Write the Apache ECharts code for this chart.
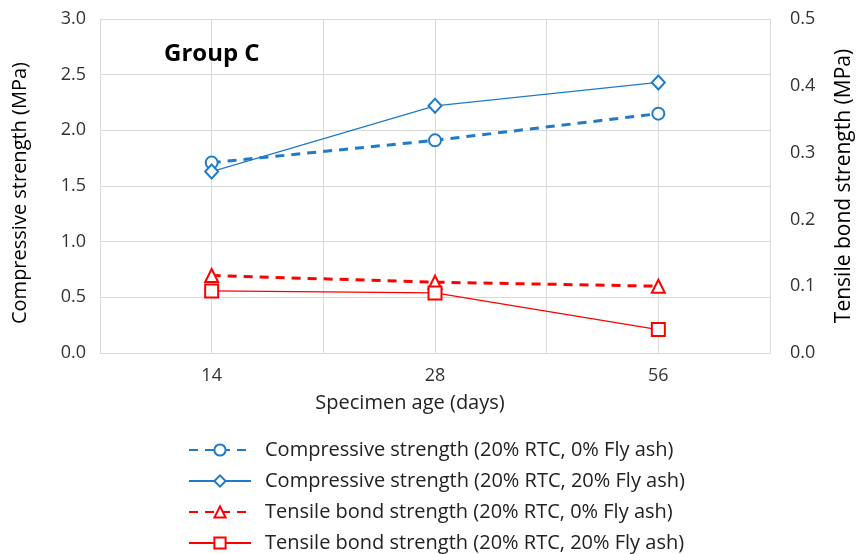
<!DOCTYPE html>
<html>
<head>
<meta charset="utf-8">
<script src="https://cdn.jsdelivr.net/npm/echarts@6/dist/echarts.min.js"></script>
<style>html,body{margin:0;padding:0;background:#fff}#c{width:863px;height:554px}</style>
</head>
<body>
<div id="c"></div>
<script>
const categories = ['14', '28', '56'];
const compNoFly = [1.71, 1.91, 2.15];
const compFly = [1.63, 2.22, 2.43];
const tensNoFly = [0.116, 0.106, 0.100];
const tensFly = [0.093, 0.090, 0.035];
const leftTicks = [0, 3, 0.5];
const rightTicks = [0, 0.5, 0.1];
const names = [
  'Compressive strength (20% RTC, 0% Fly ash)',
  'Compressive strength (20% RTC, 20% Fly ash)',
  'Tensile bond strength (20% RTC, 0% Fly ash)',
  'Tensile bond strength (20% RTC, 20% Fly ash)'
];
const FONT = '"Open Sans", "Noto Sans", sans-serif';
const BLUE = '#1f7bc8';
const RED = '#ff0000';
const GRID = '#d9d9d9';
const chart = echarts.init(document.getElementById('c'));
chart.setOption({
  animation: false,
  textStyle: { fontFamily: FONT },
  title: {
    text: 'Group C', left: 159, top: 37,
    textStyle: { fontFamily: FONT, fontSize: 24, fontWeight: 'bold', color: '#000' }
  },
  grid: { left: 100, right: 83, top: 19, bottom: 201 },
  legend: {
    orient: 'vertical', left: 183, top: 435, height: 120,
    itemWidth: 62, itemHeight: 14, itemGap: 11,
    textStyle: { fontFamily: FONT, fontSize: 20, color: '#222', padding: [0, 0, 0, 9] },
    data: names
  },
  xAxis: [{
    type: 'category', data: categories, boundaryGap: true,
    name: 'Specimen age (days)', nameLocation: 'middle', nameGap: 40,
    nameTextStyle: { fontFamily: FONT, fontSize: 20, color: '#222', padding: [0, 50, 0, 0] },
    axisLine: { lineStyle: { color: GRID } }, axisTick: { show: false },
    axisLabel: { fontFamily: FONT, fontSize: 18, color: '#333', margin: 14 },
    splitLine: { show: false }
  }, {
    type: 'value', min: 0, max: 6, interval: 1, position: 'top',
    axisLine: { show: false }, axisTick: { show: false }, axisLabel: { show: false },
    splitLine: { show: true, lineStyle: { color: GRID, width: 1 } }
  }],
  yAxis: [{
    type: 'value', min: leftTicks[0], max: leftTicks[1], interval: leftTicks[2],
    name: 'Compressive strength (MPa)', nameLocation: 'middle', nameGap: 70,
    nameTextStyle: { fontFamily: FONT, fontSize: 20, color: '#000', padding: [0, 14, 0, 0] },
    axisLine: { show: true, lineStyle: { color: GRID } }, axisTick: { show: false },
    axisLabel: { fontFamily: FONT, fontSize: 18, color: '#333', margin: 14, formatter: v => v.toFixed(1) },
    splitLine: { show: true, lineStyle: { color: GRID } }
  }, {
    type: 'value', min: rightTicks[0], max: rightTicks[1], interval: rightTicks[2],
    name: 'Tensile bond strength (MPa)', nameLocation: 'middle', nameGap: 64,
    nameRotate: 90,
    nameTextStyle: { fontFamily: FONT, fontSize: 21, color: '#000' },
    axisLine: { show: false }, axisTick: { show: false },
    axisLabel: { fontFamily: FONT, fontSize: 18, color: '#333', margin: 20, formatter: v => v.toFixed(1) },
    splitLine: { show: false }
  }],
  series: [{
    name: names[0], type: 'line', yAxisIndex: 0, data: compNoFly,
    symbol: 'emptyCircle', symbolSize: 12,
    itemStyle: { color: BLUE, borderWidth: 2 },
    lineStyle: { color: BLUE, width: 3, type: [9, 7] }
  }, {
    name: names[1], type: 'line', yAxisIndex: 0, data: compFly,
    symbol: 'emptyDiamond', symbolSize: [13, 14],
    itemStyle: { color: BLUE, borderWidth: 1.8 },
    lineStyle: { color: BLUE, width: 1.3 }
  }, {
    name: names[2], type: 'line', yAxisIndex: 1, data: tensNoFly,
    symbol: 'emptyTriangle', symbolSize: 13,
    itemStyle: { color: RED, borderWidth: 2 },
    lineStyle: { color: RED, width: 3, type: [9, 7] }
  }, {
    name: names[3], type: 'line', yAxisIndex: 1, data: tensFly,
    symbol: 'emptyRect', symbolSize: 13,
    itemStyle: { color: RED, borderWidth: 2 },
    lineStyle: { color: RED, width: 1.3 }
  }]
});
</script>
</body>
</html>
